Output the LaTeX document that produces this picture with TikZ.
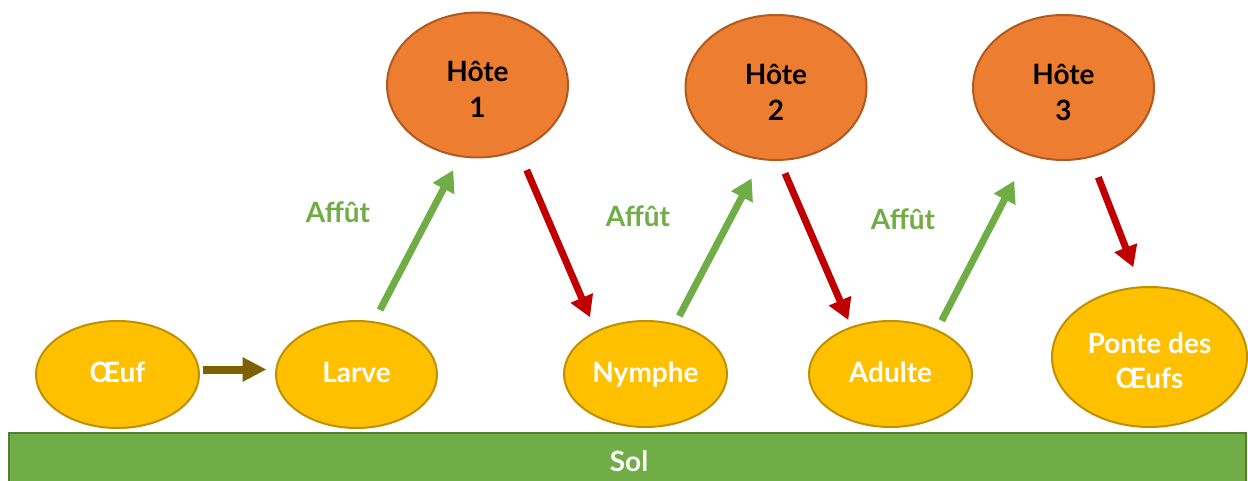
\documentclass[tikz,border=0pt]{standalone}
\usepackage{fontspec}
\setmainfont{Lato}
\usetikzlibrary{shapes.geometric,arrows.meta,calc}
\definecolor{cyellow}{HTML}{FFC000}
\definecolor{cyellowb}{HTML}{BF9000}
\definecolor{corange}{HTML}{ED7D31}
\definecolor{corangeb}{HTML}{AE5A21}
\definecolor{cgreen}{HTML}{70AD47}
\definecolor{cgreenb}{HTML}{507E32}
\definecolor{cred}{HTML}{C00000}
\definecolor{cbrown}{HTML}{7F6000}
\tikzset{
  stage/.style={ellipse, draw=cyellowb, fill=cyellow, line width=2pt, inner sep=0pt,
    text=white, font=\bfseries\fontsize{28}{35}\selectfont, align=center,
    text height=21pt, text depth=5pt},
  host/.style={ellipse, draw=corangeb, fill=corange, line width=2pt, inner sep=0pt,
    text=black, font=\bfseries\fontsize{28}{36}\selectfont, align=center,
    minimum width=181pt, minimum height=145pt, text height=70pt, text depth=4pt},
  lbl/.style={text=cgreen, font=\bfseries\fontsize{28}{30}\selectfont},
  uparrow/.style={draw=cgreen, line width=7pt, -{Triangle[width=23pt,length=21pt]}},
  downarrow/.style={draw=cred, line width=7pt, -{Triangle[width=23pt,length=21pt]}},
  growarrow/.style={draw=cbrown, line width=8pt, -{Triangle[width=23pt,length=24pt]}},
  ground/.style={rectangle, draw=cgreenb, fill=cgreen, line width=2pt}
}
\begin{document}
\begin{tikzpicture}[x=1pt,y=-1pt]
\useasboundingbox (0,0) rectangle (1248,481);
% ground
\node[ground, minimum width=1237pt, minimum height=58pt, anchor=north west] (sol) at (8,432) {};
\node[text=white, font=\bfseries\fontsize{28}{30}\selectfont] (soltxt) at (629,461) {Sol};
% stages
\node[stage, minimum width=163pt, minimum height=107pt] (oeuf) at (117.5,374.5) {Œuf};
\node[stage, minimum width=161pt, minimum height=107pt] (larve) at (356.5,374.5) {Larve};
\node[stage, minimum width=163pt, minimum height=106pt] (nymphe) at (645.5,374) {Nymphe};
\node[stage, minimum width=163pt, minimum height=106pt] (adulte) at (890.5,374) {Adulte};
\node[stage, minimum width=195pt, minimum height=140pt, text height=66pt, text depth=4pt] (ponte) at (1149.5,357) {Ponte des\\Œufs};
% hosts
\node[host] (h1) at (477.5,85) {Hôte\\1};
\node[host] (h2) at (776,87.5) {Hôte\\2};
\node[host] (h3) at (1063.5,87.5) {Hôte\\3};
% labels
\node[lbl] (af1) at (338,212) {Affût};
\node[lbl] (af2) at (638,216) {Affût};
\node[lbl] (af3) at (903,219) {Affût};
% arrows
\draw[growarrow] ($(oeuf.center)+(85.5,-5)$) -- ($(larve.center)+(-90,-5)$);
\draw[uparrow] ($(larve.center)+(23.5,-64.5)$) -- ($(h1.center)+(-24.2,85)$);
\draw[downarrow] ($(h1.center)+(49.2,85)$) -- ($(nymphe.center)+(-55.5,-56.7)$);
\draw[uparrow] ($(nymphe.center)+(33.8,-58)$) -- ($(h2.center)+(-24.3,90.8)$);
\draw[downarrow] ($(h2.center)+(9,85.8)$) -- ($(adulte.center)+(-42.2,-54)$);
\draw[uparrow] ($(adulte.center)+(51.2,-53.3)$) -- ($(h3.center)+(-49.2,93.2)$);
\draw[downarrow] ($(h3.center)+(34.8,89.8)$) -- ($(ponte.center)+(-16.2,-89.7)$);
\end{tikzpicture}
\end{document}
